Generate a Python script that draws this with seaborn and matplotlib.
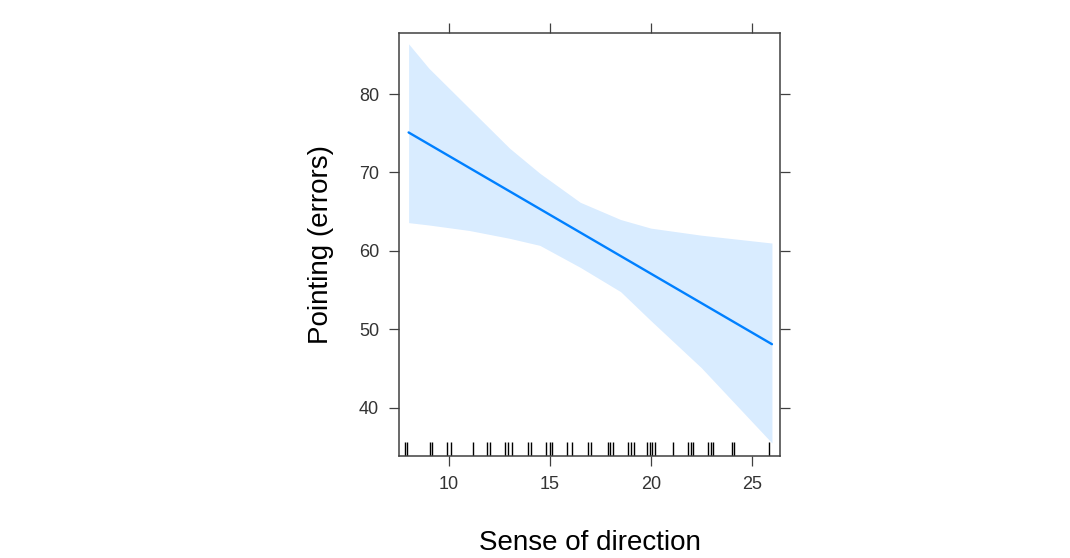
import matplotlib
matplotlib.use("Agg")
import matplotlib.pyplot as plt
import numpy as np
import pandas as pd
import seaborn as sns

# effect of sense of direction on pointing errors
sod = [8, 9, 11, 13, 14.5, 16.5, 18.5, 20, 22.5, 26]
fit = [75.1, 73.6, 70.6, 67.6, 65.35, 62.35, 59.35, 57.1, 53.35, 48.1]
upper = [86.4, 83.3, 78.2, 73.1, 69.9, 66.2, 64.0, 62.9, 62.0, 61.0]
lower = [63.6, 63.3, 62.6, 61.6, 60.7, 57.9, 54.8, 51.1, 45.1, 35.5]

# observed (jittered) sense of direction scores for the rug
rug = [7.84, 7.92, 9.04, 9.14, 9.9, 10.12, 11.17, 11.9, 12.02, 12.78, 12.94,
       13.11, 13.89, 14.05, 14.8, 14.99, 15.08, 15.85, 16.1, 16.9, 17.04,
       17.87, 18.0, 18.13, 18.86, 19.0, 19.19, 19.82, 19.95, 20.08, 20.2,
       21.1, 21.85, 21.97, 22.08, 22.84, 22.96, 23.07, 24.03, 24.1, 25.85]

x_ticks = [10, 15, 20, 25]
y_ticks = [40, 50, 60, 70, 80]

LINE = "#0080ff"
FRAME = "#404040"

sns.set_theme(style="white")
plt.rcParams["font.family"] = ["Liberation Sans", "DejaVu Sans"]

df = pd.DataFrame({"sod": sod, "fit": fit, "upper": upper, "lower": lower})

fig = plt.figure(figsize=(10.7, 5.58), dpi=100)
ax = fig.add_axes([0.3732, 0.1833, 0.3558, 0.757])

ax.fill_between(df["sod"], df["lower"], df["upper"], color=LINE, alpha=0.15, lw=0)
sns.lineplot(data=df, x="sod", y="fit", ax=ax, color=LINE, lw=1.7)
sns.rugplot(x=rug, ax=ax, height=0.033, color="black", lw=1.1, expand_margins=False)

ax.set_xlim(7.54, 26.4)
ax.set_ylim(33.88, 87.74)
ax.set_xticks(x_ticks)
ax.set_yticks(y_ticks)

ax.tick_params(axis="both", which="both", direction="out", length=7.5, width=0.9,
               color=FRAME, labelcolor="#333333", labelsize=13, pad=7,
               top=True, right=True, bottom=True, left=True,
               labeltop=False, labelright=False)
for s in ax.spines.values():
    s.set_color(FRAME)
    s.set_linewidth(1.1)

ax.set_xlabel("Sense of direction", fontsize=20, color="black", labelpad=27)
ax.set_ylabel("Pointing (errors)", fontsize=20, color="black", labelpad=18)

fig.savefig("out.png", dpi=100, facecolor="white")
